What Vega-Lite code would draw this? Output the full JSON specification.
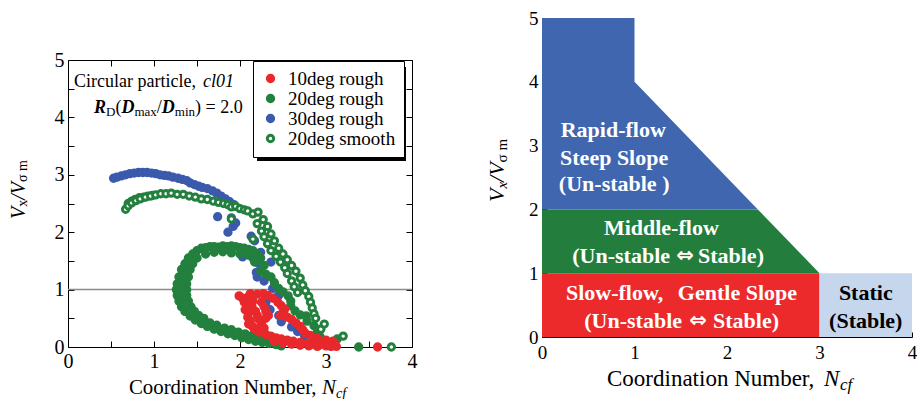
{
"$schema":"https://vega.github.io/schema/vega-lite/v6.json",
"background":"white",
"padding":{"left":8,"top":9,"right":2,"bottom":2},
"config":{"font":"Liberation Serif","view":{"stroke":null},"text":{"font":"Liberation Serif","color":"black","align":"left","baseline":"alphabetic"}},
"spacing":68,
"datasets":{
"pts":[
{"s":"30deg rough","x":0.53,"y":2.94},{"s":"30deg rough","x":0.57,"y":2.96},{"s":"30deg rough","x":0.62,"y":2.98},{"s":"30deg rough","x":0.67,"y":3.0},{"s":"30deg rough","x":0.72,"y":3.02},{"s":"30deg rough","x":0.77,"y":3.03},{"s":"30deg rough","x":0.82,"y":3.04},{"s":"30deg rough","x":0.87,"y":3.04},{"s":"30deg rough","x":0.92,"y":3.04},{"s":"30deg rough","x":0.97,"y":3.03},{"s":"30deg rough","x":1.02,"y":3.02},{"s":"30deg rough","x":1.07,"y":3.0},{"s":"30deg rough","x":1.12,"y":2.99},{"s":"30deg rough","x":1.17,"y":2.98},{"s":"30deg rough","x":1.22,"y":2.96},{"s":"30deg rough","x":1.28,"y":2.94},{"s":"30deg rough","x":1.33,"y":2.92},{"s":"30deg rough","x":1.38,"y":2.9},{"s":"30deg rough","x":1.42,"y":2.86},{"s":"30deg rough","x":1.47,"y":2.83},{"s":"30deg rough","x":1.52,"y":2.8},{"s":"30deg rough","x":1.56,"y":2.78},{"s":"30deg rough","x":1.62,"y":2.76},{"s":"30deg rough","x":1.68,"y":2.72},{"s":"30deg rough","x":1.73,"y":2.68},{"s":"30deg rough","x":1.78,"y":2.63},{"s":"30deg rough","x":1.83,"y":2.58},{"s":"30deg rough","x":1.88,"y":2.53},{"s":"30deg rough","x":1.93,"y":2.48},{"s":"30deg rough","x":1.74,"y":2.27},{"s":"30deg rough","x":1.86,"y":2.0},{"s":"30deg rough","x":1.92,"y":2.1},{"s":"30deg rough","x":1.95,"y":2.16},{"s":"30deg rough","x":1.9,"y":2.25},{"s":"30deg rough","x":2.13,"y":1.93},{"s":"30deg rough","x":2.17,"y":1.85},{"s":"30deg rough","x":2.24,"y":1.65},{"s":"30deg rough","x":2.03,"y":1.57},{"s":"30deg rough","x":2.15,"y":1.55},{"s":"30deg rough","x":2.36,"y":1.48},{"s":"30deg rough","x":2.22,"y":1.45},{"s":"30deg rough","x":2.19,"y":1.3},{"s":"30deg rough","x":2.2,"y":1.22},{"s":"30deg rough","x":2.28,"y":1.15},{"s":"30deg rough","x":2.38,"y":1.02},{"s":"30deg rough","x":2.45,"y":0.9},{"s":"30deg rough","x":2.4,"y":0.85},{"s":"30deg rough","x":2.3,"y":0.77},{"s":"30deg rough","x":2.35,"y":0.65},{"s":"30deg rough","x":2.45,"y":0.55},{"s":"30deg rough","x":2.48,"y":0.44},{"s":"30deg rough","x":2.6,"y":0.35},{"s":"30deg rough","x":2.67,"y":0.27},{"s":"30deg rough","x":2.75,"y":0.2},{"s":"30deg rough","x":2.85,"y":0.12},{"s":"30deg rough","x":2.95,"y":0.06},{"s":"30deg rough","x":3.05,"y":0.02},
{"s":"20deg rough","x":0.7,"y":2.5},{"s":"20deg rough","x":0.74,"y":2.54},{"s":"20deg rough","x":0.78,"y":2.57},{"s":"20deg rough","x":0.83,"y":2.6},{"s":"20deg rough","x":0.88,"y":2.61},{"s":"20deg rough","x":0.93,"y":2.63},{"s":"20deg rough","x":0.98,"y":2.64},
{"s":"20deg rough","x":1.5,"y":1.68},{"s":"20deg rough","x":1.55,"y":1.72},{"s":"20deg rough","x":1.6,"y":1.73},{"s":"20deg rough","x":1.65,"y":1.75},{"s":"20deg rough","x":1.7,"y":1.75},{"s":"20deg rough","x":1.75,"y":1.74},{"s":"20deg rough","x":1.8,"y":1.76},{"s":"20deg rough","x":1.85,"y":1.75},{"s":"20deg rough","x":1.9,"y":1.76},{"s":"20deg rough","x":1.95,"y":1.75},{"s":"20deg rough","x":2.0,"y":1.73},{"s":"20deg rough","x":2.05,"y":1.72},{"s":"20deg rough","x":2.1,"y":1.7},{"s":"20deg rough","x":2.15,"y":1.68},{"s":"20deg rough","x":2.2,"y":1.62},{"s":"20deg rough","x":1.6,"y":1.62},{"s":"20deg rough","x":1.7,"y":1.65},{"s":"20deg rough","x":1.8,"y":1.66},{"s":"20deg rough","x":1.9,"y":1.64},{"s":"20deg rough","x":2.0,"y":1.62},{"s":"20deg rough","x":2.1,"y":1.6},
{"s":"20deg rough","x":1.45,"y":1.62},{"s":"20deg rough","x":1.4,"y":1.55},{"s":"20deg rough","x":1.36,"y":1.45},{"s":"20deg rough","x":1.32,"y":1.35},{"s":"20deg rough","x":1.29,"y":1.22},{"s":"20deg rough","x":1.27,"y":1.1},{"s":"20deg rough","x":1.26,"y":1.0},{"s":"20deg rough","x":1.27,"y":0.9},{"s":"20deg rough","x":1.29,"y":0.8},{"s":"20deg rough","x":1.32,"y":0.7},{"s":"20deg rough","x":1.36,"y":0.62},{"s":"20deg rough","x":1.42,"y":0.54},{"s":"20deg rough","x":1.48,"y":0.47},{"s":"20deg rough","x":1.55,"y":0.41},{"s":"20deg rough","x":1.5,"y":1.55},{"s":"20deg rough","x":1.45,"y":1.45},{"s":"20deg rough","x":1.42,"y":1.35},{"s":"20deg rough","x":1.4,"y":1.22},{"s":"20deg rough","x":1.38,"y":1.1},{"s":"20deg rough","x":1.38,"y":1.0},{"s":"20deg rough","x":1.38,"y":0.9},{"s":"20deg rough","x":1.4,"y":0.8},{"s":"20deg rough","x":1.43,"y":0.7},{"s":"20deg rough","x":1.47,"y":0.62},{"s":"20deg rough","x":1.52,"y":0.55},{"s":"20deg rough","x":1.58,"y":0.5},{"s":"20deg rough","x":1.33,"y":1.15},{"s":"20deg rough","x":1.32,"y":1.0},{"s":"20deg rough","x":1.33,"y":0.85},{"s":"20deg rough","x":1.36,"y":0.75},{"s":"20deg rough","x":1.35,"y":1.3},{"s":"20deg rough","x":1.34,"y":0.95},
{"s":"20deg rough","x":1.62,"y":0.36},{"s":"20deg rough","x":1.7,"y":0.31},{"s":"20deg rough","x":1.78,"y":0.27},{"s":"20deg rough","x":1.86,"y":0.23},{"s":"20deg rough","x":1.94,"y":0.2},{"s":"20deg rough","x":2.02,"y":0.16},{"s":"20deg rough","x":2.1,"y":0.13},{"s":"20deg rough","x":2.18,"y":0.1},{"s":"20deg rough","x":2.26,"y":0.08},{"s":"20deg rough","x":2.34,"y":0.06},{"s":"20deg rough","x":2.42,"y":0.04},{"s":"20deg rough","x":2.48,"y":0.02},{"s":"20deg rough","x":1.65,"y":0.42},{"s":"20deg rough","x":1.73,"y":0.38},{"s":"20deg rough","x":1.82,"y":0.33},{"s":"20deg rough","x":1.9,"y":0.3},{"s":"20deg rough","x":1.98,"y":0.26},{"s":"20deg rough","x":2.06,"y":0.23},{"s":"20deg rough","x":2.14,"y":0.2},{"s":"20deg rough","x":2.22,"y":0.17},{"s":"20deg rough","x":2.3,"y":0.14},{"s":"20deg rough","x":2.38,"y":0.11},{"s":"20deg rough","x":2.46,"y":0.08},
{"s":"20deg rough","x":2.17,"y":1.48},{"s":"20deg rough","x":2.24,"y":1.55},{"s":"20deg rough","x":2.28,"y":1.42},{"s":"20deg rough","x":2.24,"y":1.32},{"s":"20deg rough","x":2.3,"y":1.27},{"s":"20deg rough","x":2.36,"y":1.22},{"s":"20deg rough","x":2.4,"y":1.12},{"s":"20deg rough","x":2.45,"y":1.02},{"s":"20deg rough","x":2.5,"y":0.96},{"s":"20deg rough","x":2.56,"y":0.89},{"s":"20deg rough","x":2.59,"y":0.8},{"s":"20deg rough","x":2.59,"y":0.72},{"s":"20deg rough","x":2.64,"y":0.63},{"s":"20deg rough","x":2.7,"y":0.56},{"s":"20deg rough","x":2.77,"y":0.54},{"s":"20deg rough","x":2.78,"y":0.45},{"s":"20deg rough","x":2.86,"y":0.37},{"s":"20deg rough","x":2.9,"y":0.27},{"s":"20deg rough","x":2.93,"y":0.18},{"s":"20deg rough","x":3.0,"y":0.1},{"s":"20deg rough","x":3.05,"y":0.05},{"s":"20deg rough","x":3.13,"y":0.14},{"s":"20deg rough","x":3.1,"y":0.03},{"s":"20deg rough","x":3.38,"y":0.0},
{"s":"10deg rough","x":1.99,"y":0.89},{"s":"10deg rough","x":2.03,"y":0.85},{"s":"10deg rough","x":2.05,"y":0.78},{"s":"10deg rough","x":2.08,"y":0.72},{"s":"10deg rough","x":2.06,"y":0.65},{"s":"10deg rough","x":2.1,"y":0.6},{"s":"10deg rough","x":2.09,"y":0.52},{"s":"10deg rough","x":2.12,"y":0.45},{"s":"10deg rough","x":2.1,"y":0.4},{"s":"10deg rough","x":2.15,"y":0.35},{"s":"10deg rough","x":2.18,"y":0.3},{"s":"10deg rough","x":2.22,"y":0.26},{"s":"10deg rough","x":2.1,"y":0.88},{"s":"10deg rough","x":2.15,"y":0.8},{"s":"10deg rough","x":2.14,"y":0.7},{"s":"10deg rough","x":2.18,"y":0.62},{"s":"10deg rough","x":2.2,"y":0.55},{"s":"10deg rough","x":2.22,"y":0.48},{"s":"10deg rough","x":2.25,"y":0.4},{"s":"10deg rough","x":2.28,"y":0.33},{"s":"10deg rough","x":2.12,"y":0.93},{"s":"10deg rough","x":2.2,"y":0.92},{"s":"10deg rough","x":2.27,"y":0.93},{"s":"10deg rough","x":2.32,"y":0.9},{"s":"10deg rough","x":2.38,"y":0.85},{"s":"10deg rough","x":2.25,"y":0.78},{"s":"10deg rough","x":2.28,"y":0.7},{"s":"10deg rough","x":2.3,"y":0.62},{"s":"10deg rough","x":2.33,"y":0.55},{"s":"10deg rough","x":2.3,"y":0.5},{"s":"10deg rough","x":2.44,"y":0.78},{"s":"10deg rough","x":2.48,"y":0.72},{"s":"10deg rough","x":2.52,"y":0.66},{"s":"10deg rough","x":2.5,"y":0.6},{"s":"10deg rough","x":2.47,"y":0.55},{"s":"10deg rough","x":2.55,"y":0.52},{"s":"10deg rough","x":2.6,"y":0.48},{"s":"10deg rough","x":2.65,"y":0.42},{"s":"10deg rough","x":2.7,"y":0.36},{"s":"10deg rough","x":2.73,"y":0.3},{"s":"10deg rough","x":2.76,"y":0.24},{"s":"10deg rough","x":2.82,"y":0.2},{"s":"10deg rough","x":2.9,"y":0.15},{"s":"10deg rough","x":3.0,"y":0.12},{"s":"10deg rough","x":3.08,"y":0.1},{"s":"10deg rough","x":3.1,"y":0.06},{"s":"10deg rough","x":2.3,"y":0.22},{"s":"10deg rough","x":2.36,"y":0.19},{"s":"10deg rough","x":2.42,"y":0.16},{"s":"10deg rough","x":2.48,"y":0.14},{"s":"10deg rough","x":2.55,"y":0.12},{"s":"10deg rough","x":2.62,"y":0.1},{"s":"10deg rough","x":2.7,"y":0.08},{"s":"10deg rough","x":2.78,"y":0.06},{"s":"10deg rough","x":2.85,"y":0.05},{"s":"10deg rough","x":2.92,"y":0.03},{"s":"10deg rough","x":3.0,"y":0.02},{"s":"10deg rough","x":3.06,"y":0.01},{"s":"10deg rough","x":3.12,"y":0.01},{"s":"10deg rough","x":2.4,"y":0.1},{"s":"10deg rough","x":2.5,"y":0.07},{"s":"10deg rough","x":2.6,"y":0.05},{"s":"10deg rough","x":2.7,"y":0.03},{"s":"10deg rough","x":2.8,"y":0.02},{"s":"10deg rough","x":2.9,"y":0.01},{"s":"10deg rough","x":3.6,"y":0.0},
{"s":"20deg smooth","x":0.67,"y":2.4},{"s":"20deg smooth","x":0.7,"y":2.46},{"s":"20deg smooth","x":0.74,"y":2.51},{"s":"20deg smooth","x":0.79,"y":2.55},{"s":"20deg smooth","x":0.84,"y":2.58},{"s":"20deg smooth","x":0.9,"y":2.61},{"s":"20deg smooth","x":0.96,"y":2.63},{"s":"20deg smooth","x":1.02,"y":2.65},{"s":"20deg smooth","x":1.08,"y":2.67},{"s":"20deg smooth","x":1.14,"y":2.67},{"s":"20deg smooth","x":1.2,"y":2.68},{"s":"20deg smooth","x":1.27,"y":2.66},{"s":"20deg smooth","x":1.34,"y":2.66},{"s":"20deg smooth","x":1.41,"y":2.63},{"s":"20deg smooth","x":1.48,"y":2.61},{"s":"20deg smooth","x":1.55,"y":2.58},{"s":"20deg smooth","x":1.62,"y":2.57},{"s":"20deg smooth","x":1.69,"y":2.54},{"s":"20deg smooth","x":1.75,"y":2.52},{"s":"20deg smooth","x":1.81,"y":2.5},{"s":"20deg smooth","x":1.86,"y":2.48},{"s":"20deg smooth","x":1.9,"y":2.44},{"s":"20deg smooth","x":1.95,"y":2.45},{"s":"20deg smooth","x":2.0,"y":2.41},{"s":"20deg smooth","x":2.05,"y":2.39},{"s":"20deg smooth","x":2.09,"y":2.37},{"s":"20deg smooth","x":2.15,"y":2.32},{"s":"20deg smooth","x":2.21,"y":2.35},{"s":"20deg smooth","x":1.9,"y":2.23},{"s":"20deg smooth","x":2.15,"y":1.88},
{"s":"20deg smooth","x":2.2,"y":2.15},{"s":"20deg smooth","x":2.25,"y":2.02},{"s":"20deg smooth","x":2.28,"y":1.92},{"s":"20deg smooth","x":2.32,"y":1.8},{"s":"20deg smooth","x":2.36,"y":1.68},{"s":"20deg smooth","x":2.42,"y":1.58},{"s":"20deg smooth","x":2.47,"y":1.48},{"s":"20deg smooth","x":2.52,"y":1.38},{"s":"20deg smooth","x":2.55,"y":1.28},{"s":"20deg smooth","x":2.6,"y":1.15},{"s":"20deg smooth","x":2.63,"y":1.05},{"s":"20deg smooth","x":2.67,"y":0.95},
{"s":"20deg smooth","x":2.27,"y":2.22},{"s":"20deg smooth","x":2.32,"y":2.1},{"s":"20deg smooth","x":2.36,"y":1.97},{"s":"20deg smooth","x":2.4,"y":1.85},{"s":"20deg smooth","x":2.45,"y":1.72},{"s":"20deg smooth","x":2.5,"y":1.62},{"s":"20deg smooth","x":2.55,"y":1.52},{"s":"20deg smooth","x":2.6,"y":1.42},{"s":"20deg smooth","x":2.65,"y":1.32},{"s":"20deg smooth","x":2.7,"y":1.2},{"s":"20deg smooth","x":2.73,"y":1.08},{"s":"20deg smooth","x":2.76,"y":0.98},{"s":"20deg smooth","x":2.8,"y":0.88},{"s":"20deg smooth","x":2.82,"y":0.78},{"s":"20deg smooth","x":2.84,"y":0.68},{"s":"20deg smooth","x":2.86,"y":0.58},{"s":"20deg smooth","x":2.88,"y":0.5},
{"s":"20deg smooth","x":2.94,"y":0.31},{"s":"20deg smooth","x":2.98,"y":0.4},{"s":"20deg smooth","x":3.2,"y":0.19},{"s":"20deg smooth","x":3.76,"y":0.0}
]
},
"hconcat":[
{"spacing":0,"vconcat":[
{"width":344,"height":32,"data":{"values":[{"v":0}]},"mark":{"type":"point","opacity":0}},
{
"width":344,"height":287,
"encoding":{
"x":{"field":"x","type":"quantitative","scale":{"domain":[0,4],"nice":false,"zero":false},"axis":null},
"y":{"field":"y","type":"quantitative","scale":{"domain":[0,5],"nice":false,"zero":false},"axis":null}
},
"layer":[
{"data":{"values":[{"x":0,"y":1},{"x":4,"y":1}]},"mark":{"type":"line","color":"#8c8c8c","strokeWidth":1.5}},
{"data":{"values":[{"x":2.198,"x2":3.93,"y":3.24,"y2":4.878}]},"mark":{"type":"rect","color":"black"},
"encoding":{
"x":{"field":"x","type":"quantitative","scale":{"domain":[0,4],"nice":false,"zero":false},"axis":{"orient":"top","values":[0,0.5,1,1.5,2,2.5,3,3.5,4],"labels":false,"title":null,"grid":false,"domainColor":"black","tickColor":"black","tickSize":-6}},
"x2":{"field":"x2"},
"y":{"field":"y","type":"quantitative","scale":{"domain":[0,5],"nice":false,"zero":false},"axis":{"orient":"right","values":[0,0.5,1,1.5,2,2.5,3,3.5,4,4.5,5],"labels":false,"title":null,"grid":false,"domainColor":"black","tickColor":"black","tickSize":-6}},
"y2":{"field":"y2"}
}},
{"data":{"name":"pts"},"mark":{"type":"point","shape":"circle","filled":true,"size":40,"strokeWidth":3,"opacity":1,"clip":false},
"encoding":{
"x":{"field":"x","type":"quantitative","scale":{"domain":[0,4],"nice":false,"zero":false},"axis":{"orient":"bottom","values":[0,0.5,1,1.5,2,2.5,3,3.5,4],"labelExpr":"datum.value % 1 === 0 ? '' + datum.value : ''","title":null,"grid":false,"domainColor":"black","tickColor":"black","tickSize":-6,"labelFont":"Liberation Serif","labelFontSize":20,"labelColor":"black","labelPadding":10,"labelFlush":false,"labelOverlap":false}},
"y":{"field":"y","type":"quantitative","scale":{"domain":[0,5],"nice":false,"zero":false},"axis":{"orient":"left","values":[0,0.5,1,1.5,2,2.5,3,3.5,4,4.5,5],"labelExpr":"datum.value % 1 === 0 ? '' + datum.value : ''","title":null,"grid":false,"domainColor":"black","tickColor":"black","tickSize":-6,"labelFont":"Liberation Serif","labelFontSize":20,"labelColor":"black","labelPadding":10,"labelFlush":false,"labelOverlap":false}},
"fill":{"field":"s","type":"nominal","scale":{"domain":["10deg rough","20deg rough","30deg rough","20deg smooth"],"range":["#e8282c","#23803e","#3c5aac","#ffffff"]},"legend":{"title":null,"orient":"none","legendX":185,"legendY":43,"labelFont":"Liberation Serif","labelFontSize":19,"labelColor":"black","symbolType":"circle","symbolSize":40,"symbolStrokeWidth":3,"strokeColor":"black","fillColor":"white","padding":8,"rowPadding":0,"labelOffset":8}},
"stroke":{"field":"s","type":"nominal","scale":{"domain":["10deg rough","20deg rough","30deg rough","20deg smooth"],"range":["#e8282c","#23803e","#3c5aac","#23803e"]},"legend":{"title":null,"orient":"none","legendX":185,"legendY":43,"labelFont":"Liberation Serif","labelFontSize":19,"labelColor":"black","symbolType":"circle","symbolSize":40,"symbolStrokeWidth":3,"strokeColor":"black","fillColor":"white","padding":8,"rowPadding":0,"labelOffset":8}}
}},
{"data":{"values":[{"x":0.07,"y":4.53,"t":"Circular particle,"}]},"mark":{"type":"text","fontSize":18},"encoding":{"text":{"field":"t"}}},
{"data":{"values":[{"x":1.57,"y":4.53,"t":"cl01"}]},"mark":{"type":"text","fontSize":18,"fontStyle":"italic"},"encoding":{"text":{"field":"t"}}},
{"data":{"values":[{"x":0.3023,"y":4.077,"t":"R"},{"x":0.6209,"y":4.077,"t":"D"},{"x":1.0907,"y":4.077,"t":"D"}]},"mark":{"type":"text","fontSize":18,"fontStyle":"italic","fontWeight":"bold"},"encoding":{"text":{"field":"t"}}},
{"data":{"values":[{"x":0.4419,"y":4.024,"t":"D"},{"x":0.7721,"y":4.024,"t":"max"},{"x":1.2419,"y":4.024,"t":"min"}]},"mark":{"type":"text","fontSize":13},"encoding":{"text":{"field":"t"}}},
{"data":{"values":[{"x":0.5512,"y":4.077,"t":"("},{"x":1.0326,"y":4.077,"t":"/"},{"x":1.4767,"y":4.077,"t":") = 2.0"}]},"mark":{"type":"text","fontSize":18},"encoding":{"text":{"field":"t"}}},
{"data":{"values":[{"x":0.709,"y":-0.819,"t":"Coordination Number,"}]},"mark":{"type":"text","fontSize":20.8},"encoding":{"text":{"field":"t"}}},
{"data":{"values":[{"x":2.953,"y":-0.819,"t":"N"}]},"mark":{"type":"text","fontSize":20.8,"fontStyle":"italic"},"encoding":{"text":{"field":"t"}}},
{"data":{"values":[{"x":3.116,"y":-0.889,"t":"cf"}]},"mark":{"type":"text","fontSize":14,"fontStyle":"italic"},"encoding":{"text":{"field":"t"}}},
{"data":{"values":[{"x":-0.5058,"y":2.23,"t":"V"},{"x":-0.5058,"y":2.5645,"t":"/V"}]},"mark":{"type":"text","fontSize":20,"fontStyle":"italic","angle":270},"encoding":{"text":{"field":"t"}}},
{"data":{"values":[{"x":-0.471,"y":2.4425,"t":"x"},{"x":-0.471,"y":2.8746,"t":"σ m"}]},"mark":{"type":"text","fontSize":14,"angle":270},"encoding":{"text":{"field":"t"}}}
],
"resolve":{"axis":{"x":"independent","y":"independent"}}
}
]},
{
"width":370,"height":319,
"encoding":{
"x":{"field":"x","type":"quantitative","scale":{"domain":[0,4],"nice":false,"zero":false},"axis":{"values":[0,1,2,3,4],"title":null,"grid":false,"domainColor":"black","tickColor":"black","tickSize":-5,"labelFont":"Liberation Serif","labelFontSize":19,"labelColor":"black","labelPadding":11,"labelFlush":false,"labelOverlap":false}},
"y":{"field":"y","type":"quantitative","scale":{"domain":[0,5],"nice":false,"zero":false},"axis":{"values":[0,0.5,1,1.5,2,2.5,3,3.5,4,4.5,5],"labelExpr":"datum.value % 1 === 0 ? '' + datum.value : ''","title":null,"grid":false,"domainColor":"black","tickColor":"black","tickSize":-5,"labelFont":"Liberation Serif","labelFontSize":19,"labelColor":"black","labelPadding":9,"labelFlush":false,"labelOverlap":false}}
},
"layer":[
{"data":{"values":[{"r":"slow","x":0,"x2":3,"y":0,"y2":1},{"r":"static","x":3,"x2":4,"y":0,"y2":1}]},
"mark":{"type":"rect"},
"encoding":{"x2":{"field":"x2"},"y2":{"field":"y2"},
"color":{"field":"r","type":"nominal","scale":{"domain":["slow","static"],"range":["#ec2a2b","#c6d6ec"]},"legend":null}}},
{"data":{"values":[{"x":0,"y":5,"y2":2},{"x":0.9999,"y":5,"y2":2},{"x":1,"y":4,"y2":2},{"x":2.3333,"y":2,"y2":2}]},"mark":{"type":"area","color":"#4166b0"},"encoding":{"y2":{"field":"y2"}}},
{"data":{"values":[{"x":0,"y":2,"y2":1},{"x":2.3333,"y":2,"y2":1},{"x":3,"y":1,"y2":1}]},"mark":{"type":"area","color":"#237e3e"},"encoding":{"y2":{"field":"y2"}}},
{"data":{"values":[{"x":0.77,"y":3.245,"t":"Rapid-flow"},{"x":0.78,"y":2.806,"t":"Steep Slope"},{"x":0.78,"y":2.398,"t":"(Un-stable )"},{"x":1.29,"y":1.708,"t":"Middle-flow"}]},
"mark":{"type":"text","fontSize":22,"fontWeight":"bold","color":"white","align":"center","baseline":"middle"},"encoding":{"text":{"field":"t"}}},
{"data":{"values":[{"x":1.384,"y":1.27,"t":"(Un-stable"},{"x":1.514,"y":0.251,"t":"(Un-stable"}]},
"mark":{"type":"text","fontSize":22,"fontWeight":"bold","color":"white","align":"right","baseline":"middle"},"encoding":{"text":{"field":"t"}}},
{"data":{"values":[{"x":1.686,"y":1.27,"t":"Stable)"},{"x":1.849,"y":0.251,"t":"Stable)"},{"x":0.259,"y":0.69,"t":"Slow-flow,"}]},
"mark":{"type":"text","fontSize":22,"fontWeight":"bold","color":"white","align":"left","baseline":"middle"},"encoding":{"text":{"field":"t"}}},
{"data":{"values":[{"x":2.757,"y":0.69,"t":"Gentle Slope"}]},
"mark":{"type":"text","fontSize":22,"fontWeight":"bold","color":"white","align":"right","baseline":"middle"},"encoding":{"text":{"field":"t"}}},
{"data":{"values":[{"x":1.546,"y":1.27,"t":"⇔"},{"x":1.686,"y":0.251,"t":"⇔"}]},
"mark":{"type":"text","font":"DejaVu Sans","fontSize":21,"fontWeight":"bold","color":"white","align":"center","baseline":"middle"},"encoding":{"text":{"field":"t"}}},
{"data":{"values":[{"x":3.5,"y":0.69,"t":"Static"},{"x":3.5,"y":0.251,"t":"(Stable)"}]},
"mark":{"type":"text","fontSize":22,"fontWeight":"bold","color":"black","align":"center","baseline":"middle"},"encoding":{"text":{"field":"t"}}},
{"data":{"values":[{"x":0.7027,"y":-0.768,"t":"Coordination Number,"}]},"mark":{"type":"text","fontSize":23},"encoding":{"text":{"field":"t"}}},
{"data":{"values":[{"x":3.049,"y":-0.768,"t":"N"}]},"mark":{"type":"text","fontSize":23,"fontStyle":"italic"},"encoding":{"text":{"field":"t"}}},
{"data":{"values":[{"x":3.222,"y":-0.831,"t":"cf"}]},"mark":{"type":"text","fontSize":17,"fontStyle":"italic"},"encoding":{"text":{"field":"t"}}},
{"data":{"values":[{"x":-0.411,"y":2.116,"t":"V"},{"x":-0.411,"y":2.431,"t":"/V"}]},"mark":{"type":"text","fontSize":22,"fontStyle":"italic","angle":270},"encoding":{"text":{"field":"t"}}},
{"data":{"values":[{"x":-0.373,"y":2.326,"t":"x"}]},"mark":{"type":"text","fontSize":15,"fontStyle":"italic","angle":270},"encoding":{"text":{"field":"t"}}},
{"data":{"values":[{"x":-0.373,"y":2.737,"t":"σ m"}]},"mark":{"type":"text","fontSize":15,"angle":270},"encoding":{"text":{"field":"t"}}}
]
}
]
}
